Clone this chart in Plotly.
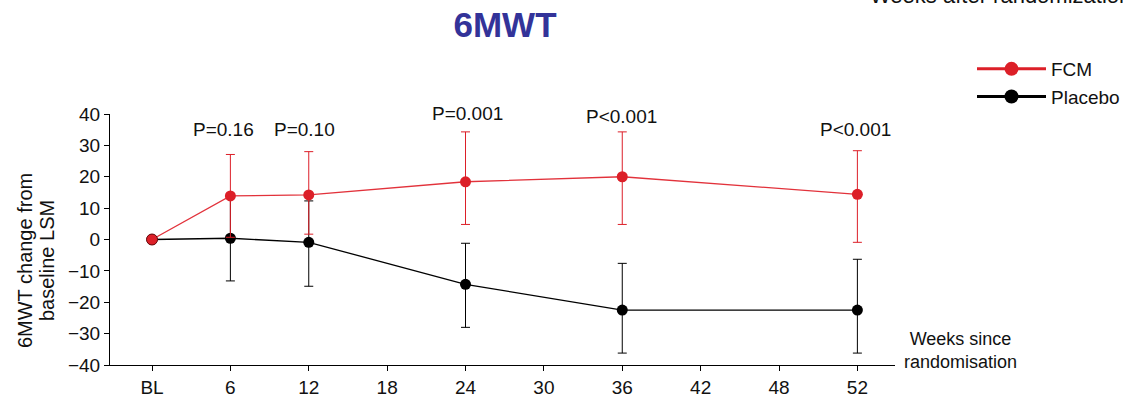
import plotly.graph_objects as go

# ---- data ----
week_labels = ["BL", "6", "12", "18", "24", "30", "36", "42", "48", "52"]
weeks = ["BL", "6", "12", "24", "36", "52"]

fcm_mean = [0, 13.9, 14.2, 18.4, 20.0, 14.4]
fcm_err_up = [0, 13.2, 13.8, 15.9, 14.3, 13.9]
fcm_err_down = [0, 13.2, 12.5, 13.6, 15.2, 15.3]

pla_mean = [0, 0.4, -0.9, -14.3, -22.5, -22.5]
pla_err_up = [0, 13.5, 13.2, 13.1, 14.9, 16.2]
pla_err_down = [0, 13.6, 14.0, 13.7, 13.7, 13.7]

p_labels = ["P=0.16", "P=0.10", "P=0.001", "P<0.001", "P<0.001"]
p_weeks = ["6", "12", "24", "36", "52"]

# ---- layout helpers (positions) ----
pos = {lab: i for i, lab in enumerate(week_labels)}
xs = [pos[w] for w in weeks]
p_x = [pos[w] for w in p_weeks]
p_xshift = [-7, -4, 2, -1, -2]
p_y = [35.2, 35.2, 40, 40, 35.2]
p_yshift = [0, 0, 1, -2, 0]

RED = "#dc1f28"
RED_LINE = "#e2323b"
BLACK = "#000000"
FONT = "Liberation Sans, Arial, sans-serif"

fig = go.Figure()

fig.add_trace(go.Scatter(
    x=xs, y=pla_mean, mode="lines+markers", name="Placebo", showlegend=False,
    line=dict(color=BLACK, width=1.3),
    marker=dict(color=BLACK, size=11),
    error_y=dict(type="data", symmetric=False, array=pla_err_up, arrayminus=pla_err_down,
                 color=BLACK, thickness=1, width=4.5),
))
fig.add_trace(go.Scatter(
    x=xs, y=fcm_mean, mode="lines+markers", name="FCM", showlegend=False,
    line=dict(color=RED_LINE, width=1.3),
    marker=dict(color=RED, size=11,
                line=dict(color="#6a0d10", width=[1, 0, 0, 0, 0, 0])),
    error_y=dict(type="data", symmetric=False, array=fcm_err_up, arrayminus=fcm_err_down,
                 color=RED, thickness=1, width=4.5),
))

# legend-only traces
fig.add_trace(go.Scatter(
    x=[None], y=[None], mode="lines+markers", name="FCM", legendgroup="a",
    line=dict(color=RED, width=3), marker=dict(color=RED, size=14),
))
fig.add_trace(go.Scatter(
    x=[None], y=[None], mode="lines+markers", name="Placebo", legendgroup="b",
    line=dict(color=BLACK, width=3), marker=dict(color=BLACK, size=14),
))

for lab, x, xsft, y, ysft in zip(p_labels, p_x, p_xshift, p_y, p_yshift):
    fig.add_annotation(x=x, y=y, text=lab, showarrow=False, xshift=xsft, yshift=ysft,
                       font=dict(size=19, color="#111111", family=FONT),
                       xanchor="center", yanchor="middle")

# y axis title (two lines)
fig.add_annotation(xref="paper", yref="paper", x=-0.1083, y=0.418,
                   text="6MWT change from", showarrow=False, textangle=-90,
                   font=dict(size=20, color="#111111", family=FONT),
                   xanchor="center", yanchor="middle")
fig.add_annotation(xref="paper", yref="paper", x=-0.0803, y=0.418,
                   text="baseline LSM", showarrow=False, textangle=-90,
                   font=dict(size=20, color="#111111", family=FONT),
                   xanchor="center", yanchor="middle")

fig.add_annotation(xref="paper", yref="paper", x=1.083, y=0.058,
                   text="Weeks since<br>randomisation", showarrow=False,
                   font=dict(size=18, color="#111111", family=FONT),
                   xanchor="center", yanchor="middle", align="center")

fig.add_annotation(xref="paper", yref="paper", x=0.9656, y=1.472,
                   text="Weeks after randomization", showarrow=False,
                   font=dict(size=22, color="#111111", family=FONT),
                   xanchor="left", yanchor="middle")

fig.update_layout(
    width=1123, height=404,
    margin=dict(l=110, r=228, t=114, b=39, autoexpand=False),
    paper_bgcolor="white", plot_bgcolor="white",
    font=dict(family=FONT, size=19, color="#111111"),
    title=dict(text="<b>6MWT</b>", x=0.4497, xref="container", xanchor="center",
               y=1 - 24.5 / 404, yref="container", yanchor="middle",
               font=dict(size=35, color="#333399", family=FONT)),
    showlegend=True,
    legend=dict(x=(972 - 110) / 785, y=1.255, xanchor="left", yanchor="top",
                font=dict(size=19, family=FONT), bgcolor="rgba(0,0,0,0)",
                itemwidth=69, tracegroupgap=4, traceorder="normal"),
    xaxis=dict(range=[-0.536, 9.48], tickmode="array",
               tickvals=list(range(len(week_labels))), ticktext=week_labels,
               showline=True, linecolor=BLACK, linewidth=1,
               ticks="outside", ticklen=5, tickcolor=BLACK,
               showgrid=False, zeroline=False, automargin=False,
               tickfont=dict(size=19, family=FONT)),
    yaxis=dict(range=[-40, 40], tickmode="linear", tick0=-40, dtick=10,
               showline=True, linecolor=BLACK, linewidth=1,
               ticks="outside", ticklen=5, tickcolor=BLACK,
               showgrid=False, zeroline=False, automargin=False,
               tickfont=dict(size=19, family=FONT)),
)

fig.write_html("out.html")
